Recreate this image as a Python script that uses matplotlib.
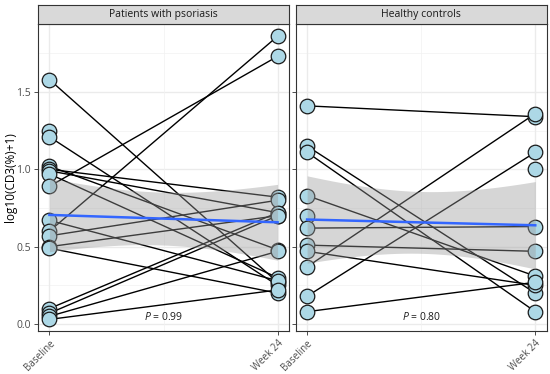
import numpy as np
import matplotlib.pyplot as plt

plt.rcParams['font.family'] = ['Open Sans', 'DejaVu Sans']
plt.rcParams['mathtext.fontset'] = 'custom'
plt.rcParams['mathtext.it'] = 'Open Sans:italic'

times = ['Baseline', 'Week 24']
panels = ['Patients with psoriasis', 'Healthy controls']
pvals = ['0.99', '0.80']

# log10(CD3(%)+1), one entry per subject, nan = missing
pso_base = [1.58, 1.25, 1.21, 1.02, 1.00, 0.99, 0.97, 0.89, 0.67, 0.60, 0.57, 0.50, 0.49, 0.10, 0.07, 0.05, 0.03]
pso_wk24 = [0.27, np.nan, 0.25, 0.48, 0.82, 0.72, 0.30, 1.73, 0.28, 1.86, 0.80, 0.70, 0.20, 0.72, 0.70, 0.47, 0.22]

hc_base = [1.41, 1.15, 1.11, 0.83, 0.70, 0.62, 0.51, 0.47, 0.37, 0.18, 0.08, np.nan]
hc_wk24 = [1.34, 0.20, 0.08, 0.31, np.nan, 0.63, 0.47, 0.25, 1.36, 1.11, 0.27, 1.00]

data = [(pso_base, pso_wk24), (hc_base, hc_wk24)]


def tq(df):
    z = 1.959964
    return z + (z**3 + z) / (4 * df) + (5 * z**5 + 16 * z**3 + 3 * z) / (96 * df**2)


fig = plt.figure(figsize=(5.5, 3.74), dpi=100)
lefts = [38 / 550, 295.7 / 550]
w = 251 / 550
bot = 1 - 330.7 / 374
h = (330.7 - 24) / 374
strip_h = 19.5 / 374

for k in range(2):
    ax = fig.add_axes([lefts[k], bot, w, h])
    base = np.array(data[k][0], float)
    wk = np.array(data[k][1], float)

    ax.set_xlim(0.95, 2.05)
    ax.set_ylim(-0.043, 1.939)
    for yy in [0.25, 0.75, 1.25, 1.75]:
        ax.axhline(yy, color='#F2F2F2', lw=0.5, zorder=0)
    for yy in [0, 0.5, 1.0, 1.5]:
        ax.axhline(yy, color='#EBEBEB', lw=1.0, zorder=0)
    ax.axvline(1.5, color='#F2F2F2', lw=0.5, zorder=0)
    for xx in [1, 2]:
        ax.axvline(xx, color='#EBEBEB', lw=1.0, zorder=0)

    # paired lines
    for b, v in zip(base, wk):
        if not (np.isnan(b) or np.isnan(v)):
            ax.plot([1, 2], [b, v], color='black', lw=1.0, zorder=2)

    xs = np.concatenate([np.ones(np.sum(~np.isnan(base))), 2 * np.ones(np.sum(~np.isnan(wk)))])
    ys = np.concatenate([base[~np.isnan(base)], wk[~np.isnan(wk)]])
    ax.scatter(xs, ys, s=110, color='#ADD8E6', edgecolor='#1A1A1A', linewidth=0.9, zorder=3)

    # linear fit with 95% band
    n = len(xs)
    slope, icpt = np.polyfit(xs, ys, 1)
    res = ys - (icpt + slope * xs)
    s = np.sqrt(np.sum(res**2) / (n - 2))
    g = np.linspace(1, 2, 80)
    se = s * np.sqrt(1 / n + (g - xs.mean())**2 / np.sum((xs - xs.mean())**2))
    fit = icpt + slope * g
    ax.fill_between(g, fit - tq(n - 2) * se, fit + tq(n - 2) * se, color='#999999', alpha=0.4, lw=0, zorder=4)
    ax.plot(g, fit, color='#3366FF', lw=1.8, zorder=5)

    ax.text(1.5, 0.047, '$P$ = ' + pvals[k], ha='center', va='center', fontsize=7.5,
            color='#1A1A1A', zorder=6)

    ax.set_xticks([1, 2])
    ax.set_xticklabels(times, rotation=45, ha='right', va='top', rotation_mode='anchor',
                       fontsize=7, color='#4D4D4D')
    ax.set_yticks([0, 0.5, 1.0, 1.5])
    if k == 0:
        ax.set_yticklabels(['0.0', '0.5', '1.0', '1.5'], fontsize=7.5, color='#4D4D4D')
        ax.set_ylabel('log10(CD3(%)+1)', fontsize=8.5, color='black')
        ax.yaxis.set_label_coords(-0.082, 0.5)
    else:
        ax.set_yticklabels([])
        ax.tick_params(axis='y', length=0)
    ax.tick_params(colors='#4D4D4D', length=3, width=0.7, pad=2)
    for sp in ax.spines.values():
        sp.set_color('#333333')
        sp.set_linewidth(0.8)

    sax = fig.add_axes([lefts[k], bot + h, w, strip_h])
    sax.set_facecolor('#D9D9D9')
    sax.set_xticks([])
    sax.set_yticks([])
    for sp in sax.spines.values():
        sp.set_color('#333333')
        sp.set_linewidth(0.8)
    sax.text(0.5, 0.5, panels[k], ha='center', va='center', fontsize=7.5, color='#1A1A1A',
             transform=sax.transAxes)

fig.savefig('out.png', dpi=100)
